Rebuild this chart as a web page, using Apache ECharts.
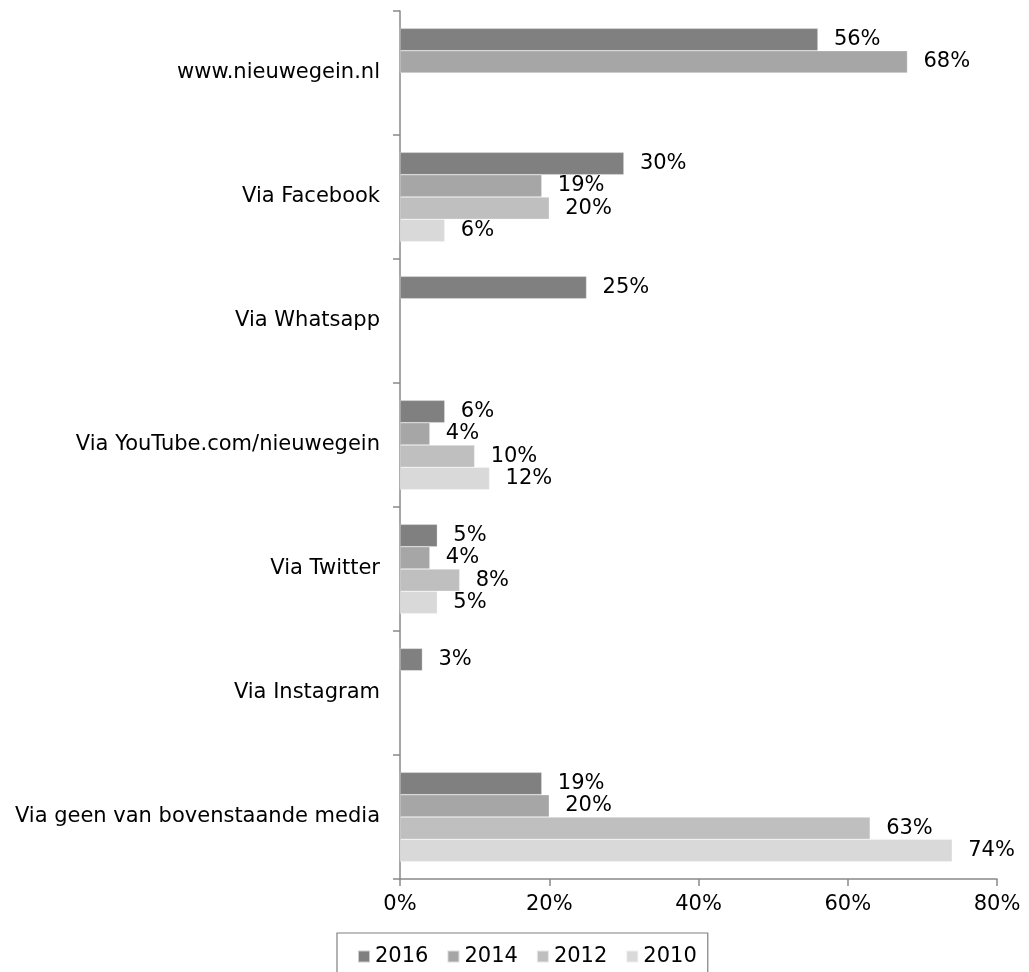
<!DOCTYPE html>
<html>
<head>
<meta charset="utf-8">
<script src="https://cdn.jsdelivr.net/npm/echarts@6/dist/echarts.min.js"></script>
<style>
html,body{margin:0;padding:0;background:#fff;}
#chart{width:1029px;height:972px;}
</style>
</head>
<body>
<div id="chart"></div>
<script>
var categories = ["www.nieuwegein.nl", "Via Facebook", "Via Whatsapp", "Via YouTube.com/nieuwegein", "Via Twitter", "Via Instagram", "Via geen van bovenstaande media"];
var seriesNames = ["2016", "2014", "2012", "2010"];
var values2016 = [56, 30, 25, 6, 5, 3, 19];
var values2014 = [68, 19, null, 4, 4, null, 20];
var values2012 = [null, 20, null, 10, 8, null, 63];
var values2010 = [null, 6, null, 12, 5, null, 74];
var xTicks = [0, 20, 40, 60, 80];
var colors = ["#808080", "#a6a6a6", "#bfbfbf", "#d9d9d9"];

var allValues = [values2016, values2014, values2012, values2010];
var FONT = "DejaVu Sans";
var FS = 21;
var axisColor = "#898989";

var chart = echarts.init(document.getElementById('chart'), null, {renderer: 'canvas'});
var series = seriesNames.map(function (name, i) {
  return {
    name: name,
    type: 'bar',
    data: allValues[i],
    barGap: '0%',
    barCategoryGap: '28%',
    itemStyle: {color: colors[i], borderColor: 'rgba(255,255,255,0.6)', borderWidth: 0.5},
    label: {
      show: true,
      position: 'right',
      distance: 16,
      formatter: function (p) { return p.value == null ? '' : p.value + '%'; },
      fontFamily: FONT,
      fontSize: FS,
      color: '#000'
    },
    animation: false
  };
});

chart.setOption({
  animation: false,
  textStyle: {fontFamily: FONT},
  grid: {left: 400, right: 32, top: 11, bottom: 93, containLabel: false},
  legend: {
    data: seriesNames,
    left: 337,
    top: 933,
    orient: 'horizontal',
    itemWidth: 12,
    itemHeight: 12,
    itemGap: 18,
    icon: 'rect',
    padding: [13, 11, 22, 20],
    borderColor: '#808080',
    borderWidth: 1.2,
    textStyle: {fontFamily: FONT, fontSize: FS, color: '#000'}
  },
  xAxis: {
    type: 'value',
    min: xTicks[0],
    max: xTicks[xTicks.length - 1],
    interval: 20,
    axisLine: {show: true, lineStyle: {color: axisColor, width: 1.5}},
    axisTick: {show: true, length: 7, lineStyle: {color: axisColor, width: 1.5}},
    splitLine: {show: false},
    axisLabel: {
      margin: 15,
      fontFamily: FONT,
      fontSize: FS,
      color: '#000',
      formatter: function (v) { return v + '%'; }
    }
  },
  yAxis: {
    type: 'category',
    data: categories,
    inverse: true,
    axisLine: {show: true, lineStyle: {color: axisColor, width: 1.5}},
    axisTick: {show: true, length: 7, lineStyle: {color: axisColor, width: 1.5}},
    axisLabel: {
      margin: 20,
      fontFamily: FONT,
      fontSize: FS,
      color: '#000'
    }
  },
  series: series
});
</script>
</body>
</html>
